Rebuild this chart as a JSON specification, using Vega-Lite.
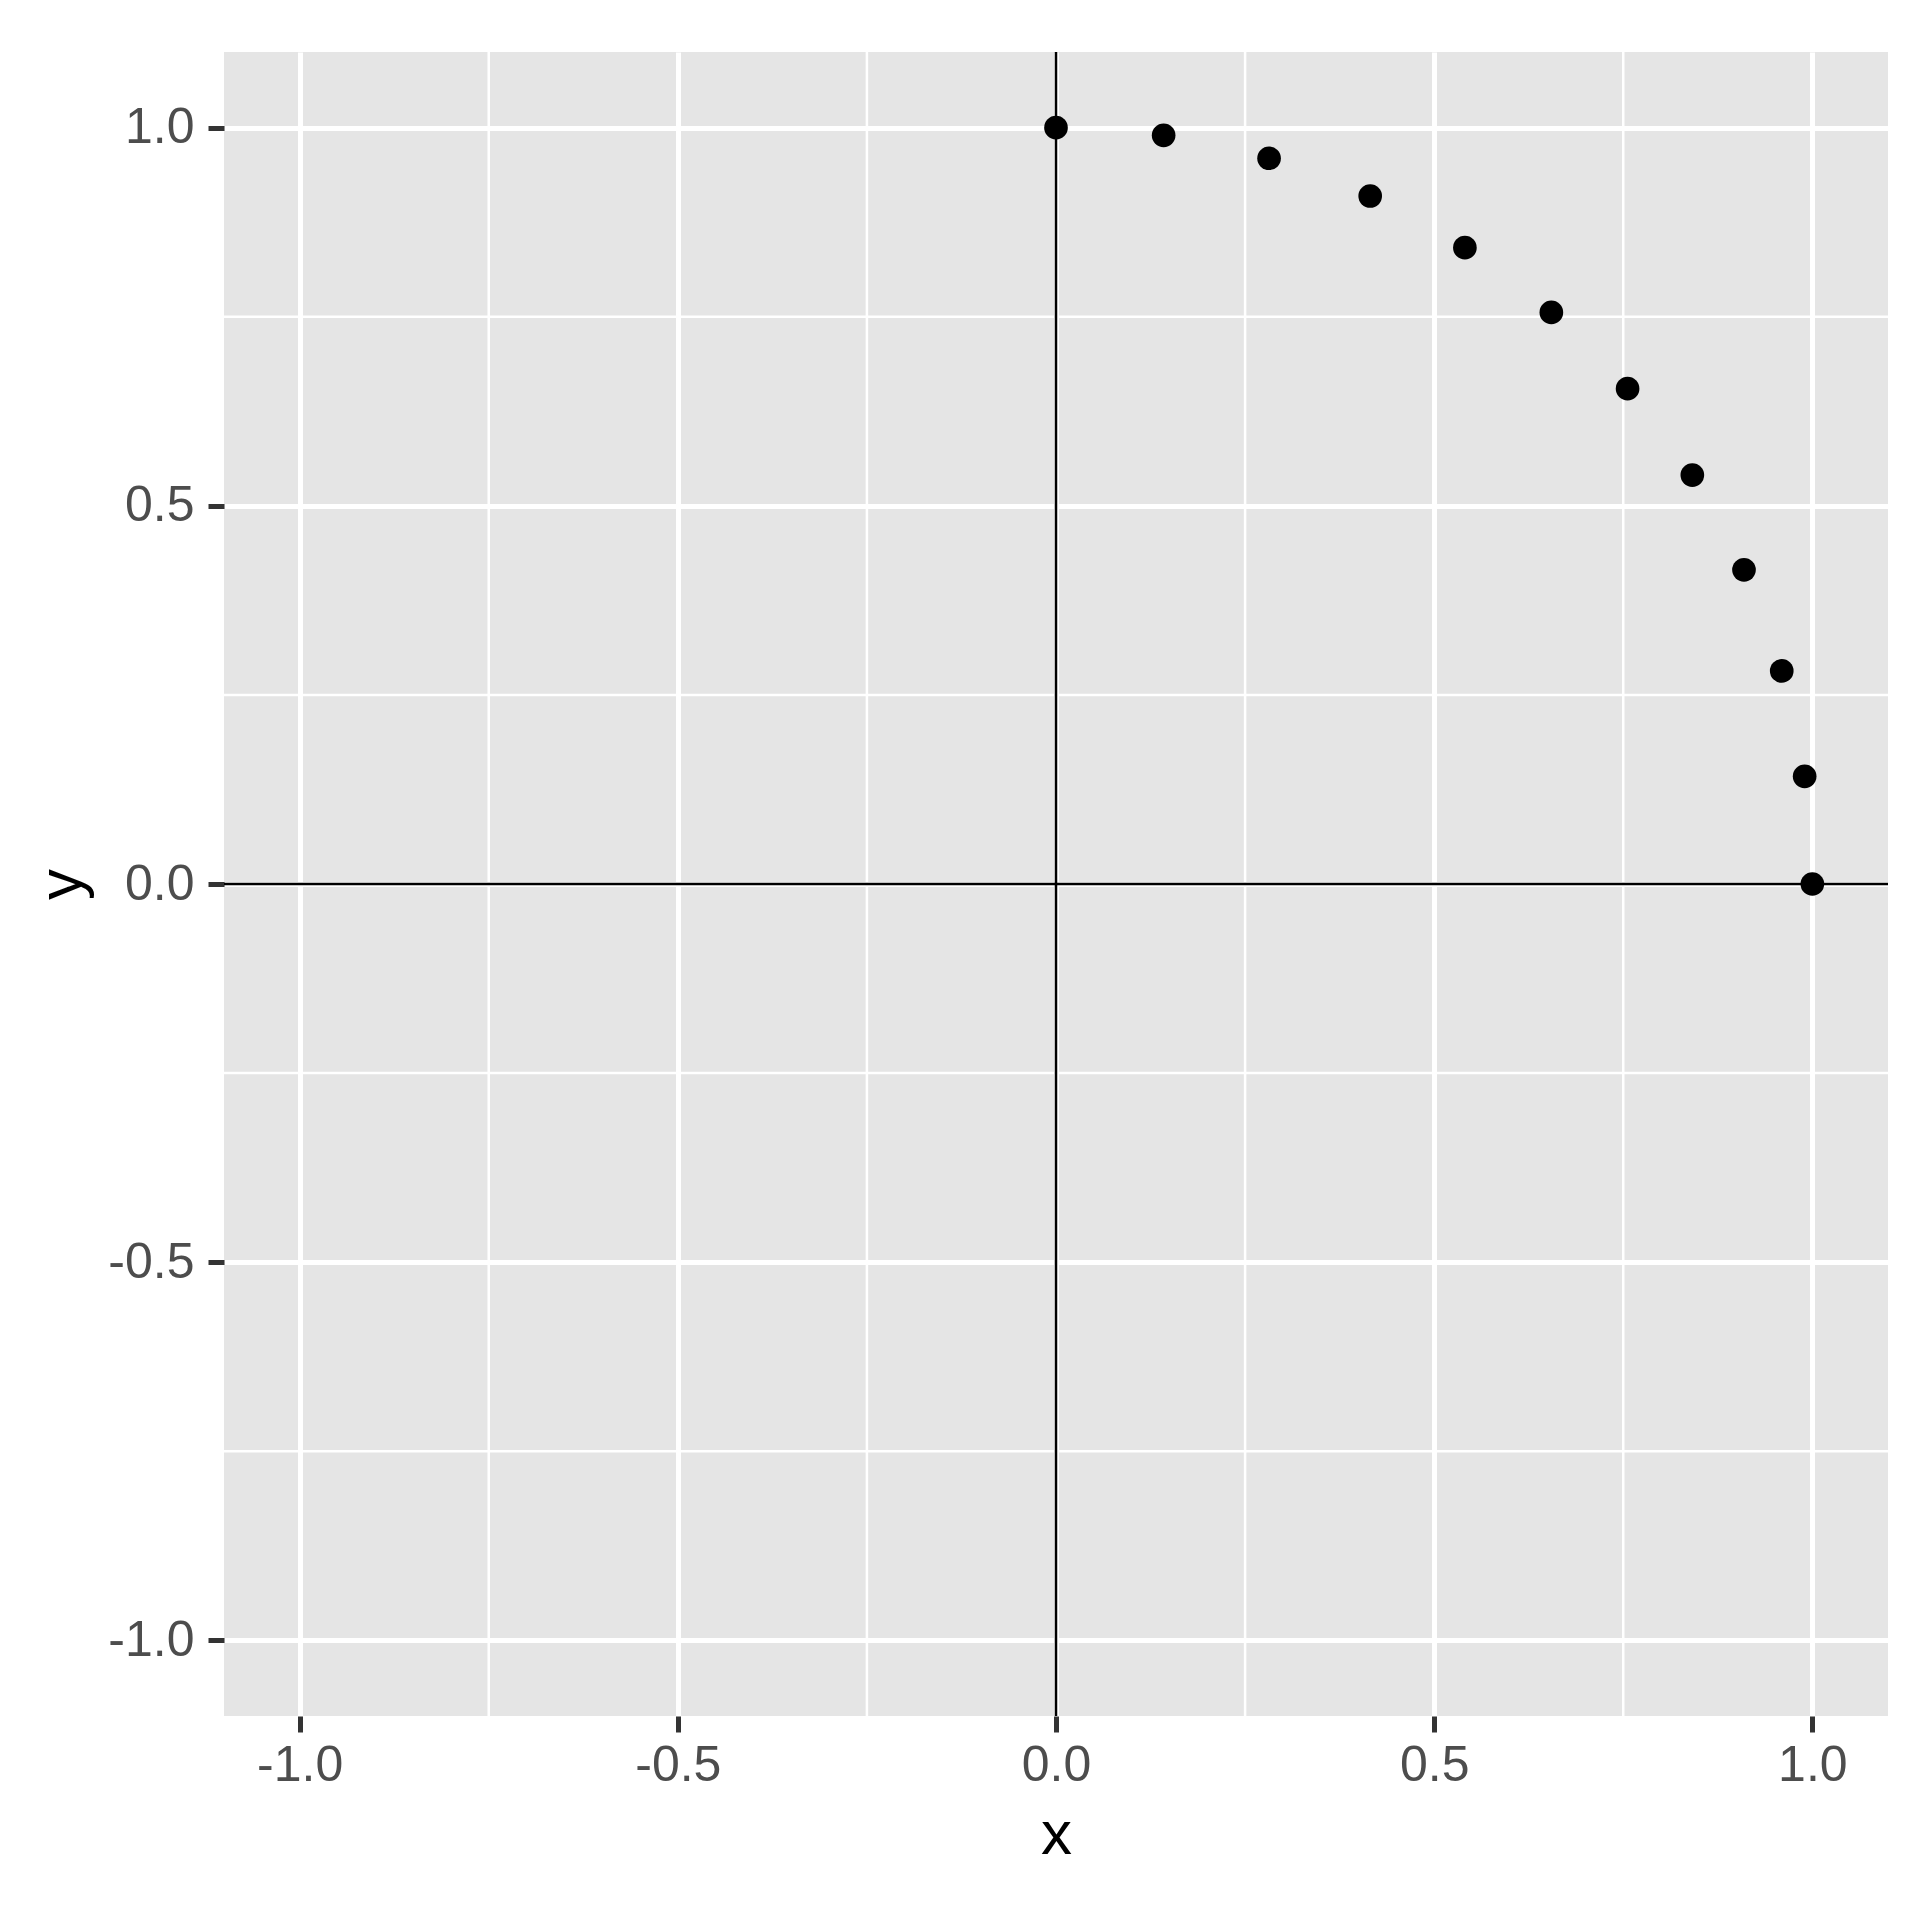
{
  "$schema": "https://vega.github.io/schema/vega-lite/v6.json",
  "autosize": {"type": "none"},
  "padding": {"left": 224, "top": 52, "right": 32, "bottom": 204},
  "width": 1664,
  "height": 1664,
  "background": "white",
  "config": {
    "view": {"fill": "#E5E5E5", "stroke": null},
    "axis": {
      "domain": false,
      "grid": true,
      "gridColor": "white",
      "gridWidth": 5,
      "tickColor": "#333333",
      "tickSize": 16,
      "tickWidth": 5,
      "labelFont": "Liberation Sans",
      "labelFontSize": 50,
      "labelColor": "#4D4D4D",
      "titleFont": "Liberation Sans",
      "titleFontSize": 62,
      "titleFontWeight": "normal",
      "titleColor": "black"
    }
  },
  "datasets": {
    "pts": [
      {"x": 0.0, "y": 1.0},
      {"x": 0.1423, "y": 0.9898},
      {"x": 0.2817, "y": 0.9595},
      {"x": 0.4154, "y": 0.9096},
      {"x": 0.5406, "y": 0.8413},
      {"x": 0.6549, "y": 0.7557},
      {"x": 0.7557, "y": 0.6549},
      {"x": 0.8413, "y": 0.5406},
      {"x": 0.9096, "y": 0.4154},
      {"x": 0.9595, "y": 0.2817},
      {"x": 0.9898, "y": 0.1423},
      {"x": 1.0, "y": 0.0}
    ],
    "minor": [{"v": -0.75}, {"v": -0.25}, {"v": 0.25}, {"v": 0.75}],
    "zero": [{"v": 0}]
  },
  "layer": [
    {
      "data": {"name": "pts"},
      "mark": {"type": "point", "opacity": 0},
      "encoding": {
        "x": {"field": "x", "type": "quantitative", "title": "x",
              "scale": {"domain": [-1.1, 1.1], "nice": false, "zero": false},
              "axis": {"values": [-1, -0.5, 0, 0.5, 1], "format": ".1f", "labelExpr": "replace(datum.label, '\u2212', '-')", "labelPadding": 8, "titlePadding": 14}},
        "y": {"field": "y", "type": "quantitative", "title": "y",
              "scale": {"domain": [-1.1, 1.1], "nice": false, "zero": false},
              "axis": {"values": [-1, -0.5, 0, 0.5, 1], "format": ".1f", "labelExpr": "replace(datum.label, '\u2212', '-')", "labelPadding": 14, "titlePadding": 14}}
      }
    },
    {
      "data": {"name": "minor"},
      "mark": {"type": "rule", "color": "white", "strokeWidth": 2.5},
      "encoding": {"x": {"field": "v", "type": "quantitative"}}
    },
    {
      "data": {"name": "minor"},
      "mark": {"type": "rule", "color": "white", "strokeWidth": 2.5},
      "encoding": {"y": {"field": "v", "type": "quantitative"}}
    },
    {
      "data": {"name": "zero"},
      "mark": {"type": "rule", "color": "black", "strokeWidth": 2.5},
      "encoding": {"x": {"field": "v", "type": "quantitative"}}
    },
    {
      "data": {"name": "zero"},
      "mark": {"type": "rule", "color": "black", "strokeWidth": 2.5},
      "encoding": {"y": {"field": "v", "type": "quantitative"}}
    },
    {
      "data": {"name": "pts"},
      "mark": {"type": "circle", "color": "black", "opacity": 1, "size": 560},
      "encoding": {
        "x": {"field": "x", "type": "quantitative"},
        "y": {"field": "y", "type": "quantitative"}
      }
    }
  ]
}
